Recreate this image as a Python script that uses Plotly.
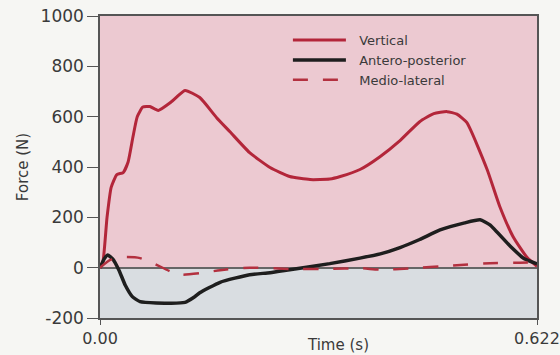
import plotly.graph_objects as go

# ---- data ----
t_vert = [0.000, 0.004, 0.010, 0.016, 0.024, 0.033, 0.040, 0.047, 0.053, 0.061, 0.071, 0.083,
          0.102, 0.121, 0.142, 0.166, 0.185, 0.213, 0.242, 0.270, 0.299, 0.327, 0.342, 0.370,
          0.398, 0.427, 0.455, 0.475, 0.494, 0.508, 0.522, 0.551, 0.569, 0.588, 0.608, 0.622]
f_vert = [0, 20, 200, 320, 370, 378, 420, 521, 600, 638, 640, 625,
          660, 704, 676, 596, 540, 457, 398, 362, 350, 352, 362, 390,
          440, 505, 580, 612, 620, 610, 577, 390, 243, 123, 40, 5]

t_ap = [0.000, 0.006, 0.011, 0.018, 0.027, 0.036, 0.046, 0.057, 0.080, 0.121, 0.135, 0.142,
        0.171, 0.213, 0.242, 0.270, 0.327, 0.370, 0.399, 0.427, 0.455, 0.484, 0.519, 0.541,
        0.555, 0.584, 0.604, 0.622]
f_ap = [0, 35, 50, 35, -10, -70, -115, -135, -140, -138, -115, -100,
        -58, -28, -20, -8, 16, 38, 55, 80, 112, 150, 178, 190,
        170, 85, 35, 15]

t_ml = [0.000, 0.014, 0.036, 0.057, 0.078, 0.100, 0.117, 0.142, 0.171, 0.213, 0.270, 0.327,
        0.370, 0.399, 0.441, 0.498, 0.555, 0.598, 0.622]
f_ml = [0, 30, 42, 38, 15, -15, -28, -22, -10, 0, -5, -5,
        -2, -8, -3, 8, 18, 20, 22]

series_names = ["Vertical", "Antero-posterior", "Medio-lateral"]
x_ticks = [0.0, 0.622]
x_tick_labels = ["0.00", "0.622"]
y_ticks = [-200, 0, 200, 400, 600, 800, 1000]
y_tick_labels = ["-200", "0", "200", "400", "600", "800", "1000"]

FONT = "DejaVu Sans"
TXT = "#3a3a3a"
PAD = "\u00a0\u00a0"  # extra gap between legend sample and its text

fig = go.Figure()
fig.add_trace(go.Scatter(x=t_vert, y=f_vert, name=PAD + series_names[0], mode="lines",
                         line=dict(color="#b3263a", width=3, shape="spline", smoothing=0.5)))
fig.add_trace(go.Scatter(x=t_ap, y=f_ap, name=PAD + series_names[1], mode="lines",
                         line=dict(color="#1e1e1e", width=3.5, shape="spline", smoothing=0.5)))
fig.add_trace(go.Scatter(x=t_ml, y=f_ml, name=PAD + series_names[2], mode="lines",
                         line=dict(color="#b3303f", width=2.5, dash="15px,15px",
                                   shape="spline", smoothing=0.5)))

# background bands: pink above zero, grey below
fig.add_shape(type="rect", xref="paper", yref="y", x0=0, x1=1, y0=0, y1=1000,
              fillcolor="#ecc9d1", line_width=0, layer="below")
fig.add_shape(type="rect", xref="paper", yref="y", x0=0, x1=1, y0=-200, y1=0,
              fillcolor="#d9dde1", line_width=0, layer="below")

# x-axis title (placed slightly right of centre, as in the reference)
fig.add_annotation(text="Time (s)", xref="paper", yref="paper", x=0.545, y=-0.089,
                   xanchor="center", yanchor="middle", showarrow=False,
                   font=dict(size=15, color=TXT, family=FONT))

fig.update_layout(
    width=560, height=355,
    margin=dict(l=100, r=23, t=16, b=37, autoexpand=False),
    paper_bgcolor="#f6f6f3",
    plot_bgcolor="#ecc9d1",
    font=dict(family=FONT, color=TXT),
    showlegend=True,
    legend=dict(x=0.43, y=0.97, xanchor="left", yanchor="top",
                bgcolor="rgba(0,0,0,0)", font=dict(size=13, color=TXT, family=FONT),
                itemwidth=53, tracegroupgap=0),
)
fig.update_xaxes(range=[0, 0.622], tickvals=x_ticks, ticktext=x_tick_labels,
                 showgrid=False, zeroline=False, showline=True, linecolor="#555",
                 linewidth=1.5, mirror=True, ticks="outside", ticklen=5, tickcolor="#555",
                 ticklabeloverflow="allow", ticklabelstandoff=0, automargin=False,
                 tickfont=dict(size=16, color=TXT))
fig.update_yaxes(range=[-200, 1000], tickvals=y_ticks, ticktext=y_tick_labels,
                 showgrid=False, zeroline=True, zerolinecolor="#666", zerolinewidth=1.5,
                 showline=True, linecolor="#555", linewidth=1.5, mirror=True,
                 ticks="outside", ticklen=11, tickcolor="#555", automargin=False,
                 tickfont=dict(size=17, color=TXT),
                 title=dict(text="Force (N)", font=dict(size=15, color=TXT), standoff=8))

fig.write_html("out.html")
